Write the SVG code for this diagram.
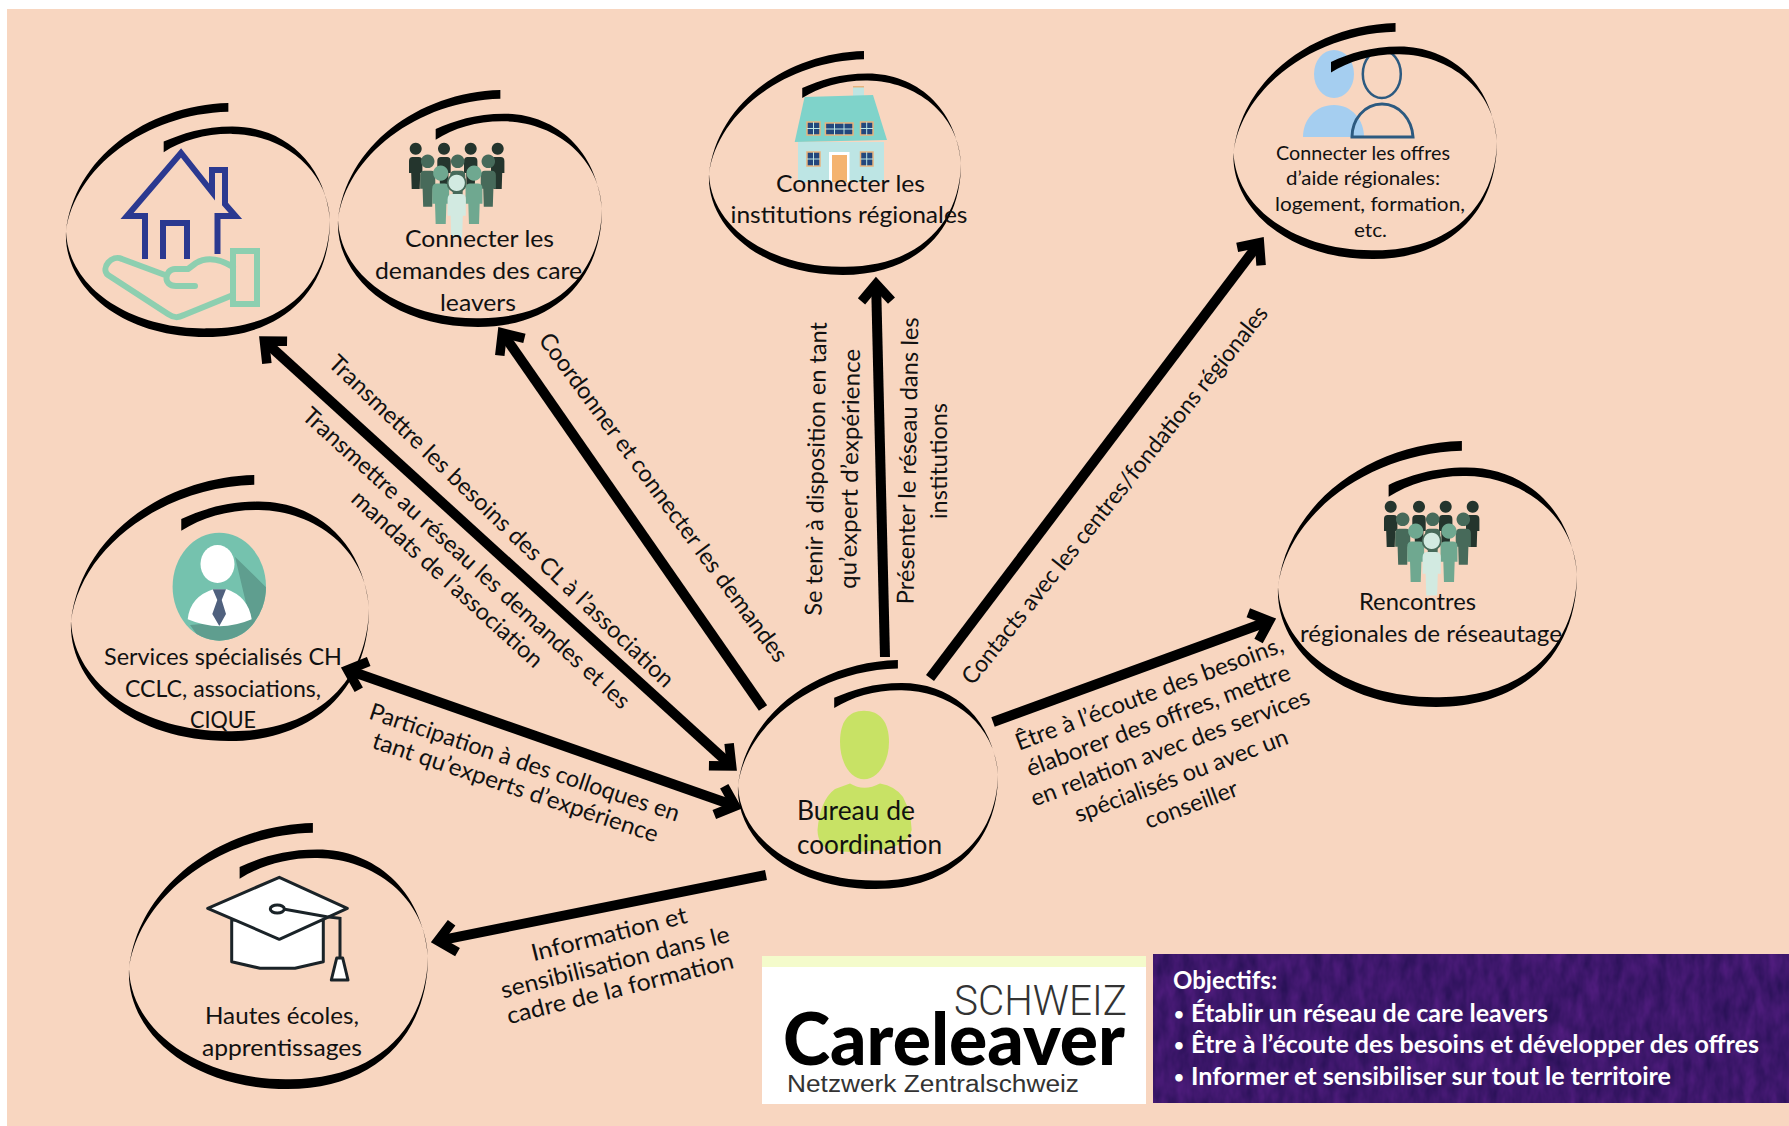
<svg xmlns="http://www.w3.org/2000/svg" width="1789" height="1126" viewBox="0 0 1789 1126">
<style>
text{font-family:"Lato","Carlito","Open Sans",sans-serif;fill:#111}
.t{font-size:24px;text-anchor:middle}
.r{font-size:23.5px;text-anchor:middle}
.s{font-size:20px;text-anchor:middle}
.o{font-size:24px;font-weight:700;fill:#fff}
.b{font-size:17px;font-weight:700;fill:#fff}
.ln{fill:none;stroke:#000;stroke-width:10}
.sp{fill:#000}
.hs{fill:none;stroke:#2B3990;stroke-width:6;stroke-linejoin:miter}
.hd{fill:none;stroke:#8DCFB0;stroke-width:6;stroke-linecap:round;stroke-linejoin:round}
.w{fill:#23477D;stroke:#E8B27C;stroke-width:1.5}
.cap{fill:#fff;stroke:#1A2328;stroke-width:3;stroke-linejoin:round}
</style>
<defs>
<path id="spiral" d="M61.5,0C30,1 3,24 0,55C-1,78 20,100 53,100C82,100 100,80 100,50C98,25 82,10 63,10C52,10 44,13 37,16.5L37,21C44,16 53,13 63,13.2C82,13.5 99,28 100,50C99.500,78 82,96.3 54,96.3C26,97 1,80 0,55C3,28 30,4.5 61.5,3.7Z"/>
<marker id="ah" markerUnits="userSpaceOnUse" markerWidth="60" markerHeight="60" refX="0" refY="0" orient="auto-start-reverse" overflow="visible">
<path d="M-17,-15L0,0L-17,15" fill="none" stroke="#000" stroke-width="9.5"/>
</marker>
<path id="fig" d="M0,0.7a6,6 0 1 0 0.01,0ZM-6.7,19Q-6.7,15 -3,15L3,15Q6.7,15 6.7,19L6.7,31L4.5,31L4,47L-4,47L-4.5,31L-6.7,31Z"/>
<g id="people">
<g fill="#24352D"><use href="#fig" x="6.7"/><use href="#fig" x="35"/><use href="#fig" x="61.7"/><use href="#fig" x="88.7"/></g>
<g fill="#476A5A"><use href="#fig" transform="translate(18.7,11.7) scale(1.13)"/><use href="#fig" transform="translate(48.7,11.7) scale(1.13)"/><use href="#fig" transform="translate(79.3,11.7) scale(1.13)"/></g>
<g fill="#6FA890"><use href="#fig" transform="translate(31.7,22.7) scale(1.26)"/><use href="#fig" transform="translate(65,22.7) scale(1.26)"/></g>
<circle cx="47.7" cy="41" r="10" fill="#476A5A"/>
<use href="#fig" transform="translate(47.7,31.7) scale(1.36)" fill="#D2EAE1"/>
</g>
<clipPath id="av"><ellipse cx="219.3" cy="586.7" rx="46.7" ry="54"/></clipPath>
<filter id="tex" x="0" y="0" width="100%" height="100%" color-interpolation-filters="sRGB">
<feTurbulence type="fractalNoise" baseFrequency="0.09 0.04" numOctaves="3" seed="4"/>
<feColorMatrix values="0.2 0 0 0 0.14  0.06 0 0 0 0.06  0.2 0 0 0 0.32  0 0 0 0 1"/>
</filter>
</defs>

<rect x="7" y="9" width="1782" height="1117" fill="#F8D6C0"/>

<g id="connectors">
<path class="ln" marker-start="url(#ah)" marker-end="url(#ah)" d="M264.4,341L731.6,766"/>
<path class="ln" marker-end="url(#ah)" d="M763,708L502.4,333"/>
<path class="ln" marker-end="url(#ah)" d="M885,657L876.1,284"/>
<path class="ln" marker-end="url(#ah)" d="M930,678L1259.4,242.8"/>
<path class="ln" marker-end="url(#ah)" d="M993,722L1269.4,621"/>
<path class="ln" marker-start="url(#ah)" marker-end="url(#ah)" d="M347.7,670L735.3,806"/>
<path class="ln" marker-end="url(#ah)" d="M766,875L437.9,940.8"/>
</g>

<g id="connector-labels">
<text class="r" transform="translate(496,527) rotate(43.8)" textLength="468" lengthAdjust="spacingAndGlyphs">Transmettre les besoins des CL à l’association</text>
<text class="r" transform="translate(461,564) rotate(42.4)">Transmettre au réseau les demandes et les</text>
<text class="r" transform="translate(442,585) rotate(42.4)">mandats de l’association</text>
<text class="r" transform="translate(657,502) rotate(53.6)" textLength="402" lengthAdjust="spacingAndGlyphs">Coordonner et connecter les demandes</text>
<text class="r" transform="translate(824,469) rotate(-89)">Se tenir à disposition en tant</text>
<text class="r" transform="translate(858,469) rotate(-89)" textLength="240" lengthAdjust="spacingAndGlyphs">qu’expert d’expérience</text>
<text class="r" transform="translate(916,461) rotate(-89)" textLength="287" lengthAdjust="spacingAndGlyphs">Présenter le réseau dans les</text>
<text class="r" transform="translate(947,461) rotate(-90)">institutions</text>
<text class="r" transform="translate(1121,500) rotate(-51.5)" textLength="476" lengthAdjust="spacingAndGlyphs">Contacts avec les centres/fondations régionales</text>
<text class="r" transform="translate(1152,701) rotate(-20.5)" textLength="284" lengthAdjust="spacingAndGlyphs">Être à l’écoute des besoins,</text>
<text class="r" transform="translate(1161,728) rotate(-20.5)" textLength="280" lengthAdjust="spacingAndGlyphs">élaborer des offres, mettre</text>
<text class="r" transform="translate(1173,755) rotate(-20.5)" textLength="296" lengthAdjust="spacingAndGlyphs">en relation avec des services</text>
<text class="r" transform="translate(1184,783) rotate(-20.5)">spécialisés ou avec un</text>
<text class="r" transform="translate(1194,812) rotate(-20.5)">conseiller</text>
<text class="r" transform="translate(522,770) rotate(18.5)">Participation à des colloques en</text>
<text class="r" transform="translate(513,795) rotate(18.5)" textLength="300" lengthAdjust="spacingAndGlyphs">tant qu’experts d’expérience</text>
<text class="r" transform="translate(611,942) rotate(-14)" textLength="160" lengthAdjust="spacingAndGlyphs">Information et</text>
<text class="r" transform="translate(617,970) rotate(-14)" textLength="235" lengthAdjust="spacingAndGlyphs">sensibilisation dans le</text>
<text class="r" transform="translate(622,996) rotate(-14)" textLength="233" lengthAdjust="spacingAndGlyphs">cadre de la formation</text>
</g>

<g id="node-logement">
<path class="hs" d="M145,259V216H127L181,153L212,192V170H225V204L235.5,216H217.5V254"/>
<path class="hs" d="M163,259V223H187V259"/>
<rect x="233" y="251" width="24" height="53" fill="none" stroke="#8DCFB0" stroke-width="6"/>
<path class="hd" d="M233,267C222,260 208,256 196,263L188,269H175C165,269 162,286 176,286H195M165,275L122,259C112,254 100,268 108,275L168,314C174,318 178,318 184,315L233,295"/>
<use href="#spiral" class="sp" transform="translate(66,103) scale(2.64,2.34)"/>
</g>

<g id="node-demandes">
<use href="#people" x="409" y="142"/>
<use href="#spiral" class="sp" transform="translate(338,90) scale(2.64,2.37)"/>
<text class="t" x="479.5" y="247" textLength="149" lengthAdjust="spacingAndGlyphs">Connecter les</text>
<text class="t" x="478.5" y="279" textLength="207" lengthAdjust="spacingAndGlyphs">demandes des care</text>
<text class="t" x="478" y="311" textLength="76" lengthAdjust="spacingAndGlyphs">leavers</text>
</g>

<g id="node-institutions">
<rect x="853" y="87" width="11" height="9" fill="#BFE5E2"/>
<rect x="853" y="86" width="11" height="1.5" fill="#E8B27C"/>
<rect x="798" y="142" width="86" height="40" fill="#BDE5E4"/>
<path d="M804.6,97L873,95L887,140L794.7,142Z" fill="#7FD3CA"/>
<rect class="w" x="807" y="122" width="13" height="13"/><rect class="w" x="825.4" y="123" width="27.6" height="12"/><rect class="w" x="860.5" y="122" width="12.5" height="13"/>
<rect class="w" x="807" y="152" width="13" height="14"/><rect class="w" x="860.5" y="152" width="12.5" height="14"/>
<path d="M813.5,122V135M807,128.500H820M866.700,122V135M860.500,128.500H873M834.500,123V135M844,123V135M825.400,129H853M813.500,152V166M807,159H820M866.700,152V166M860.500,159H873" fill="none" stroke="#BDE5E4" stroke-width="1"/>
<rect x="829" y="152" width="20.5" height="30" fill="#fff"/><rect x="832" y="155" width="15" height="27" fill="#F4B36F"/>
<use href="#spiral" class="sp" transform="translate(709,51) scale(2.52,2.24)"/>
<text class="t" x="850.5" y="192" textLength="149" lengthAdjust="spacingAndGlyphs">Connecter les</text>
<text class="t" x="849" y="223" textLength="237" lengthAdjust="spacingAndGlyphs">institutions régionales</text>
</g>

<g id="node-offres">
<ellipse cx="1334" cy="74" rx="20" ry="24" fill="#A5CEF0"/>
<path d="M1303,137C1303,120 1315,105 1334,105C1352,105 1364,120 1364,137Z" fill="#A5CEF0"/>
<ellipse cx="1381.8" cy="74" rx="19" ry="24" fill="none" stroke="#2C5A80" stroke-width="2.5"/>
<path d="M1352,137C1352,120 1364,104 1382,104C1400,104 1412,120 1413,137Z" fill="none" stroke="#2C5A80" stroke-width="3"/>
<use href="#spiral" class="sp" transform="translate(1233.5,23) scale(2.635,2.36)"/>
<text class="s" x="1363" y="160" textLength="174" lengthAdjust="spacingAndGlyphs">Connecter les offres</text>
<text class="s" x="1363" y="185" textLength="154" lengthAdjust="spacingAndGlyphs">d’aide régionales:</text>
<text class="s" x="1370" y="211" textLength="190" lengthAdjust="spacingAndGlyphs">logement, formation,</text>
<text class="s" x="1370.5" y="237" textLength="33" lengthAdjust="spacingAndGlyphs">etc.</text>
</g>

<g id="node-services">
<ellipse cx="219.3" cy="586.7" rx="46.7" ry="54" fill="#75C2AE"/>
<path clip-path="url(#av)" d="M235,556.7L275,596V660H215L190,625L250,620Z" fill="#5F9E8F"/>
<ellipse cx="217.5" cy="564" rx="17" ry="19" fill="#fff"/>
<path d="M187.7,619.3Q190,596.7 213.3,589.3L226.7,589.3Q248.3,596.7 251.7,619.3Q220,633 187.7,619.3Z" fill="#fff"/>
<path d="M212.7,589.3L226,589.3L221.7,600L226,614L219.3,626L212.3,614L217.3,600Z" fill="#50617E"/>
<use href="#spiral" class="sp" transform="translate(71,475) scale(2.98,2.66)"/>
<text class="t" x="223" y="665" textLength="238" lengthAdjust="spacingAndGlyphs">Services spécialisés CH</text>
<text class="t" x="223" y="697" textLength="196" lengthAdjust="spacingAndGlyphs">CCLC, associations,</text>
<text class="t" x="223" y="728" textLength="66" lengthAdjust="spacingAndGlyphs">CIQUE</text>
</g>

<g id="node-bureau">
<path d="M864,710.7C880,710.7 889,722 889,742C889,762 878,779.3 864,779.3C850,779.3 840,762 840,742C840,722 848,710.7 864,710.7Z" fill="#C8E265"/>
<path d="M850,783.5Q864,792 880,783.5Q895,786 903,797Q911,812 911.7,830Q908,846 880,850Q850,854 830,850Q818,846 817.5,830Q820,800 835,789Z" fill="#C8E265"/>
<use href="#spiral" class="sp" transform="translate(738,660) scale(2.6,2.29)"/>
<text class="t" style="text-anchor:start;font-size:26px" x="797" y="820" textLength="118" lengthAdjust="spacingAndGlyphs">Bureau de</text>
<text class="t" style="text-anchor:start;font-size:26px" x="797" y="854" textLength="145" lengthAdjust="spacingAndGlyphs">coordination</text>
</g>

<g id="node-rencontres">
<use href="#people" x="1384" y="500"/>
<use href="#spiral" class="sp" transform="translate(1278,441) scale(2.99,2.66)"/>
<text class="t" x="1417.500" y="610" textLength="117" lengthAdjust="spacingAndGlyphs">Rencontres</text>
<text class="t" x="1431" y="642" textLength="262" lengthAdjust="spacingAndGlyphs">régionales de réseautage</text>
</g>

<g id="node-hautes-ecoles">
<path class="cap" d="M231.7,920V961.7L260,968.3H295L323.3,961.7V920Z"/>
<path class="cap" d="M279.3,877.3L347.3,908.3L279.3,939.3L207.7,908.3Z"/>
<ellipse cx="277.3" cy="909" rx="7" ry="4" class="cap"/>
<path d="M283.3,909L326.7,916.7L340,918.3V958" fill="none" stroke="#1A2328" stroke-width="3"/>
<path class="cap" d="M336.7,958H342.7L348,980H331.3Z"/>
<use href="#spiral" class="sp" transform="translate(129,823) scale(2.99,2.66)"/>
<text class="t" x="282" y="1024" textLength="154" lengthAdjust="spacingAndGlyphs">Hautes écoles,</text>
<text class="t" x="282" y="1056" textLength="160" lengthAdjust="spacingAndGlyphs">apprentissages</text>
</g>

<g id="logo">
<rect x="762" y="956" width="384" height="148" fill="#fff"/>
<rect x="762" y="956" width="384" height="11" fill="#F4FBCB"/>
<text x="954" y="1015" font-size="42" font-weight="300" textLength="173" lengthAdjust="spacingAndGlyphs" style="font-family:'Roboto',sans-serif;fill:#333">SCHWEIZ</text>
<text x="783" y="1065" font-size="72" font-weight="900" textLength="342" lengthAdjust="spacingAndGlyphs" style="fill:#000">Careleaver</text>
<text x="787" y="1092" font-size="23.5" textLength="292" lengthAdjust="spacingAndGlyphs" style="font-family:'Liberation Sans',sans-serif;fill:#333">Netzwerk Zentralschweiz</text>
</g>

<g id="objectifs">
<rect x="1153" y="954" width="636" height="149" filter="url(#tex)"/>
<text class="o" x="1173" y="989">Objectifs:</text>
<text class="b" x="1174" y="1020">•</text><text class="o" x="1191" y="1022" textLength="357" lengthAdjust="spacingAndGlyphs">Établir un réseau de care leavers</text>
<text class="b" x="1174" y="1051">•</text><text class="o" x="1191" y="1053" textLength="568" lengthAdjust="spacingAndGlyphs">Être à l’écoute des besoins et développer des offres</text>
<text class="b" x="1174" y="1083">•</text><text class="o" x="1191" y="1085" textLength="480" lengthAdjust="spacingAndGlyphs">Informer et sensibiliser sur tout le territoire</text>
</g>
</svg>
